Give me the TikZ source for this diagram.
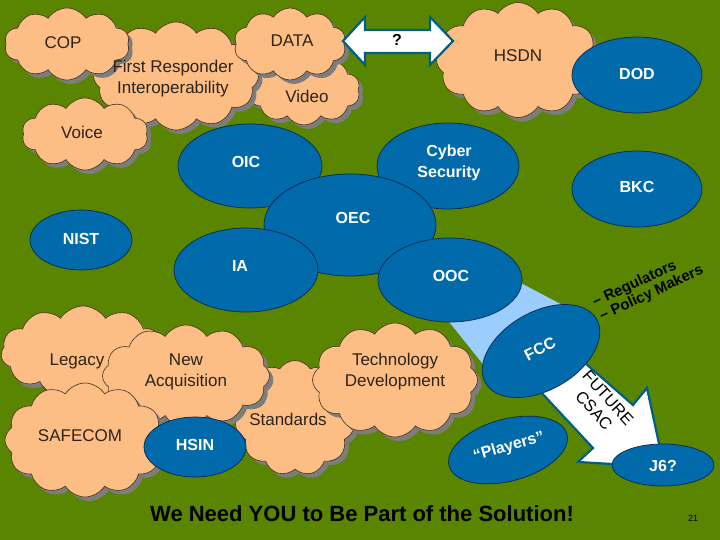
\documentclass[tikz,border=0pt]{standalone}
\usepackage{fontspec}
\setmainfont{Liberation Sans}
\usetikzlibrary{shapes.symbols,shapes.geometric,shadows}
\definecolor{bg}{RGB}{90,133,0}
\definecolor{peach}{RGB}{252,190,132}
\definecolor{cloudline}{RGB}{70,50,30}
\definecolor{shadowgray}{RGB}{125,125,125}
\definecolor{eblue}{RGB}{0,106,170}
\definecolor{navy}{RGB}{10,40,80}
\definecolor{lightblue}{RGB}{155,205,255}
\definecolor{arrowline}{RGB}{0,95,135}
\definecolor{textdark}{RGB}{45,35,25}
\tikzset{
  cloudbox/.style={cloud, cloud puffs=11, cloud puff arc=115, cloud ignores aspect,
    draw=cloudline, line width=0.6pt, fill=peach, inner sep=0pt,
    drop shadow={shadow xshift=4pt, shadow yshift=-4pt, fill=shadowgray, opacity=1}},
  ellbox/.style={ellipse, draw=navy, line width=0.7pt, fill=eblue, inner sep=0pt},
  ctext/.style={font=\fontsize{17}{21}\selectfont, text=textdark, align=center, inner sep=0pt},
  etext/.style={font=\bfseries\fontsize{16}{21}\selectfont, text=white, align=center, inner sep=0pt},
  btext/.style={font=\bfseries\fontsize{15}{17}\selectfont, text=black, inner sep=0pt},
  bigarrow/.style={draw=arrowline, line width=2.2pt, fill=white, line join=miter}
}
\begin{document}
\begin{tikzpicture}[x=1pt,y=-1pt]
\useasboundingbox (0,0) rectangle (720,540);
\fill[bg] (0,0) rectangle (720,540);

% light blue band between OOC and FCC
\fill[lightblue] (515,280) -- (570,309) -- (486,368) -- (446,318) -- cycle;

% top clouds
\node[cloudbox, cloud puffs=10, minimum width=112pt, minimum height=70pt] (cVideo) at (304,90) {};
\node[cloudbox, cloud puffs=12, minimum width=165pt, minimum height=108pt] (cFR) at (176,76) {};
\node[cloudbox, cloud puffs=10, minimum width=112pt, minimum height=72pt] (cDATA) at (290,44) {};
\node[cloudbox, cloud puffs=10, minimum width=125pt, minimum height=72pt] (cCOP) at (67,44) {};
\node[cloudbox, cloud puffs=10, minimum width=126pt, minimum height=72pt] (cVoice) at (85,134) {};
\node[cloudbox, cloud puffs=12, minimum width=163pt, minimum height=115pt] (cHSDN) at (518,60) {};

% double arrow "?"
\draw[bigarrow] (343,41) -- (365,17) -- (365,30) -- (430,30) -- (430,17) -- (453,41)
  -- (430,65) -- (430,53) -- (365,53) -- (365,65) -- cycle;

% bottom clouds
\node[cloudbox, cloud puffs=11, minimum width=164pt, minimum height=92pt] (cLegacy) at (83,352) {};
\node[cloudbox, cloud puffs=11, minimum width=120pt, minimum height=115pt] (cStd) at (295,418) {};
\node[cloudbox, cloud puffs=12, minimum width=167pt, minimum height=102pt] (cNA) at (186,376) {};
\node[cloudbox, cloud puffs=12, minimum width=160pt, minimum height=114pt] (cSAFE) at (85,440) {};
\node[cloudbox, cloud puffs=12, minimum width=165pt, minimum height=114pt] (cTech) at (395,380) {};

% big white arrow FCC -> J6?
\draw[bigarrow] (525,375) -- (593,448) -- (578,462) -- (664,467) -- (647,388)
  -- (633,405) -- (569,349) -- cycle;

% ellipses
\node[ellbox, minimum width=130pt, minimum height=76pt] (eDOD) at (637,75) {};
\node[ellbox, minimum width=130pt, minimum height=76pt] (eBKC) at (637,189) {};
\node[ellbox, minimum width=144pt, minimum height=84pt] (eOIC) at (250,166) {};
\node[ellbox, minimum width=142pt, minimum height=86pt] (eCyber) at (448,166) {};
\node[ellbox, minimum width=172pt, minimum height=102pt] (eOEC) at (350,225) {};
\node[ellbox, minimum width=102pt, minimum height=60pt] (eNIST) at (81,240) {};
\node[ellbox, minimum width=144pt, minimum height=84pt] (eIA) at (246,270) {};
\node[ellbox, minimum width=144pt, minimum height=84pt] (eOOC) at (450,280) {};
\node[ellbox, minimum width=128pt, minimum height=78pt, rotate=30] (eFCC) at (541,351) {};
\node[ellbox, minimum width=102pt, minimum height=60pt] (eHSIN) at (195,447) {};
\node[ellbox, minimum width=122pt, minimum height=62pt, rotate=15] (ePlayers) at (508,450) {};
\node[ellbox, minimum width=102pt, minimum height=42pt] (eJ6) at (663,465) {};

% cloud texts
\node[ctext] (tCOP) at (63,43) {COP};
\node[ctext] (tFR) at (173,79) {First Responder\\Interoperability};
\node[ctext] (tDATA) at (292,41) {DATA};
\node[ctext] (tVideo) at (307,96) {Video};
\node[ctext] (tVoice) at (82,132) {Voice};
\node[ctext] (tHSDN) at (518,56) {HSDN};
\node[ctext] (tLegacy) at (77,361) {Legacy};
\node[ctext] (tNA) at (186,372) {New\\Acquisition};
\node[ctext] (tSAFE) at (80,436) {SAFECOM};
\node[ctext] (tStd) at (288,419) {Standards};
\node[ctext] (tTech) at (395,372) {Technology\\Development};

% ellipse texts
\node[etext] (tDOD) at (637,74) {DOD};
\node[etext] (tBKC) at (637,187) {BKC};
\node[etext] (tOIC) at (246,162) {OIC};
\node[etext] (tCyber) at (449,163) {Cyber\\Security};
\node[etext] (tOEC) at (353,218) {OEC};
\node[etext] (tNIST) at (81,239) {NIST};
\node[etext] (tIA) at (240,266) {IA};
\node[etext] (tOOC) at (451,276) {OOC};
\node[etext, rotate=27] (tFCC) at (540,349) {FCC};
\node[etext] (tHSIN) at (195,445) {HSIN};
\node[etext, rotate=16] (tPlayers) at (509,447) {“Players”};
\node[etext] (tJ6) at (663,466) {J6?};

% other texts
\node[font=\bfseries\fontsize{16}{18}\selectfont, inner sep=0pt] (tQ) at (397,40) {?};
\node[btext, anchor=base west, rotate=25] (tReg) at (595,307) {– Regulators};
\node[btext, anchor=base west, rotate=25] (tPol) at (602,321) {– Policy Makers};
\node[font=\fontsize{16.5}{19}\selectfont, text=black, align=center, rotate=-48, inner sep=0pt] (tFut) at (601,404) {FUTURE\\CSAC};
\node[font=\bfseries\fontsize{22}{24}\selectfont, text=black, inner sep=0pt] (tTitle) at (362,514) {We Need YOU to Be Part of the Solution!};
\node[font=\fontsize{9}{10}\selectfont, text=black, inner sep=0pt] (tNum) at (693,518) {21};
\end{tikzpicture}
\end{document}
